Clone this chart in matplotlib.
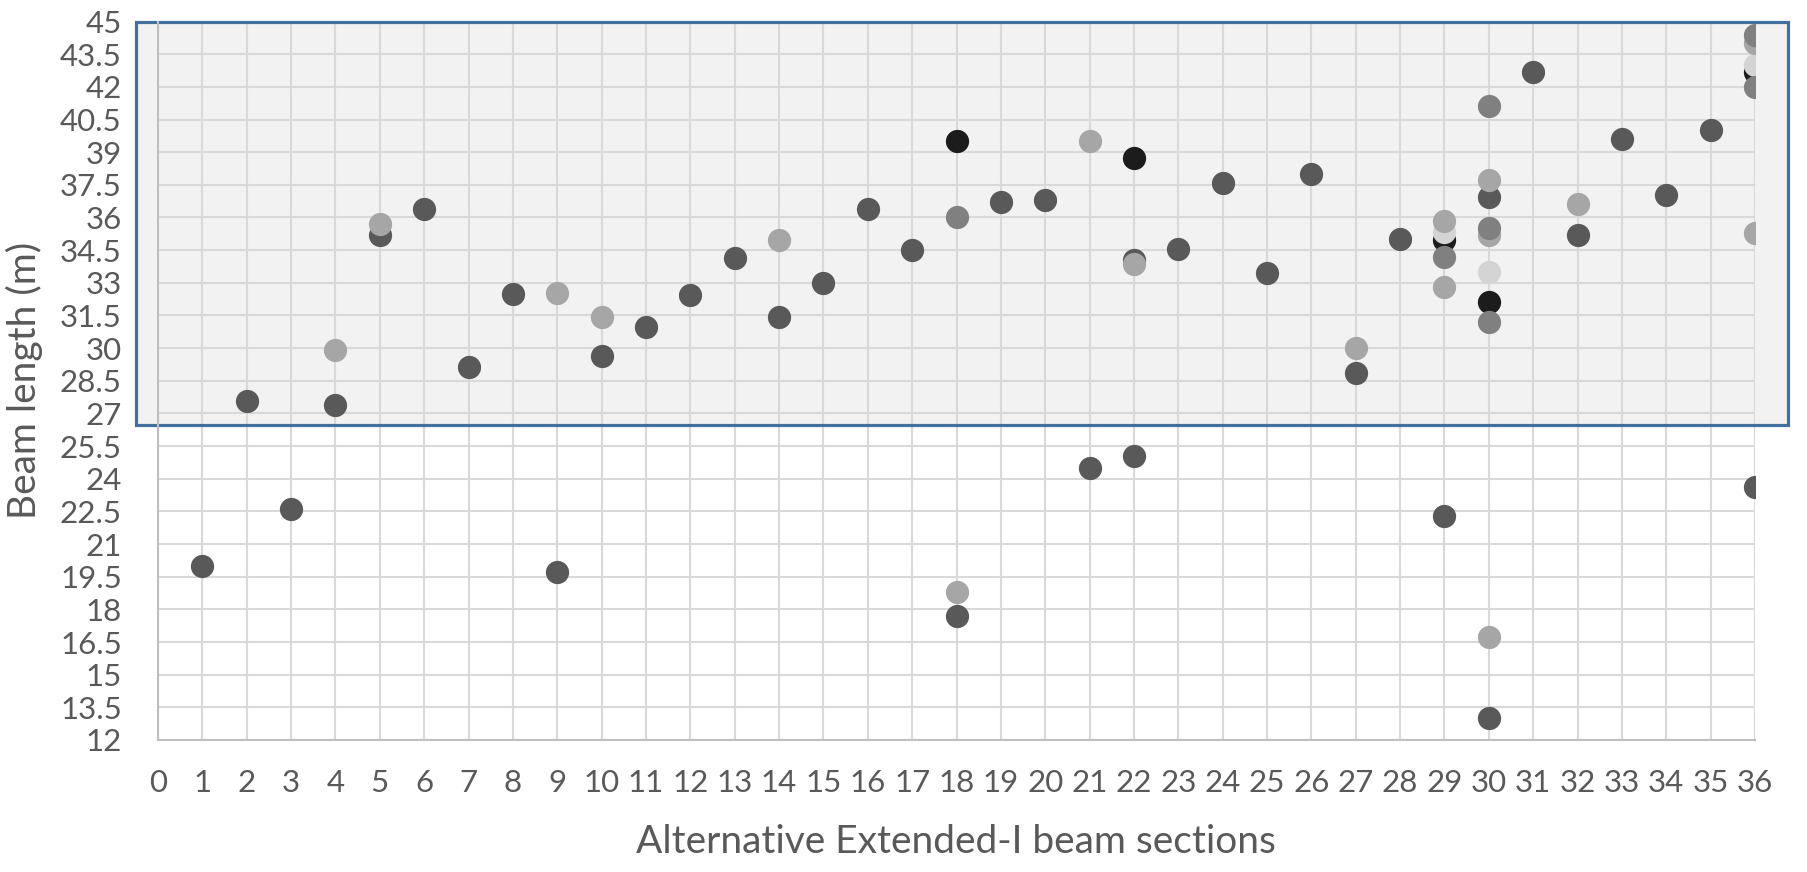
import matplotlib.pyplot as plt
from matplotlib.patches import Rectangle
import numpy as np

plt.rcParams['font.family'] = ['Lato', 'DejaVu Sans']

# beam sections vs beam length, grouped by marker shade
dark_x = [1, 2, 3, 4, 5, 6, 7, 8, 9, 10, 11, 12, 13, 14, 15, 16, 17, 18, 19, 20,
          21, 22, 22, 23, 24, 25, 26, 27, 28, 29, 30, 30, 31, 32, 33, 34, 35, 36]
dark_y = [20.0, 27.55, 22.6, 27.4, 35.2, 36.4, 29.15, 32.5, 19.7, 29.65, 30.95,
          32.45, 34.15, 31.45, 33.0, 36.4, 34.5, 17.7, 36.7, 36.8, 24.5, 34.05,
          25.05, 34.55, 37.6, 33.45, 38.0, 28.85, 35.0, 22.3, 36.95, 13.0, 42.7,
          35.2, 39.6, 37.05, 40.0, 23.6]

black_x = [18, 22, 29, 30, 36]
black_y = [39.5, 38.75, 34.95, 32.1, 42.7]

vlight_x = [29, 30, 36]
vlight_y = [35.35, 33.5, 43.0]

light_x = [4, 5, 9, 10, 14, 18, 21, 22, 27, 29, 29, 30, 30, 30, 32, 36, 36]
light_y = [29.9, 35.7, 32.55, 31.45, 34.95, 18.8, 39.5, 33.85, 30.0, 35.85, 32.8,
           37.7, 35.2, 16.75, 36.6, 44.0, 35.3]

medium_x = [18, 29, 30, 30, 30, 36, 36]
medium_y = [36.0, 34.2, 41.1, 35.5, 31.2, 44.4, 42.0]

x_ticks = np.arange(0, 37, 1)
y_ticks = np.arange(12, 45.1, 1.5)

fig = plt.figure(figsize=(18.08, 8.72), dpi=100)
ax = fig.add_axes([0.0874, 0.1514, 0.8833, 0.8239])

# highlighted region behind the upper points
ax.add_patch(Rectangle((-0.5, 26.47), 37.24, 18.53, facecolor='#f2f2f2',
                       edgecolor='none', clip_on=False, zorder=0.2))
ax.add_patch(Rectangle((-0.5, 26.47), 37.24, 18.53, fill=False,
                       edgecolor='#41719c', linewidth=2.3, clip_on=False, zorder=2.5))

ms = 280
ax.scatter(dark_x, dark_y, s=ms, color='#595959', linewidths=0, zorder=3)
ax.scatter(black_x, black_y, s=ms, color='#1c1c1c', linewidths=0, zorder=4)
ax.scatter(vlight_x, vlight_y, s=ms, color='#d4d4d4', linewidths=0, zorder=5)
ax.scatter(light_x, light_y, s=ms, color='#a6a6a6', linewidths=0, zorder=6)
ax.scatter(medium_x, medium_y, s=ms, color='#808080', linewidths=0, zorder=7)

ax.set_xlim(0, 36)
ax.set_ylim(12, 45)
ax.set_xticks(x_ticks)
ax.set_yticks(y_ticks)
ax.set_yticklabels([('%g' % v) for v in y_ticks])
ax.set_axisbelow(True)
ax.grid(True, color='#d9d9d9', linewidth=1.5)

ax.set_facecolor('none')
for s in ['top', 'right']:
    ax.spines[s].set_visible(False)
for s in ['left', 'bottom']:
    ax.spines[s].set_color('#bfbfbf')
    ax.spines[s].set_linewidth(1.5)

ax.tick_params(axis='both', length=0, labelsize=22.5, labelcolor='#595959')
ax.tick_params(axis='y', pad=26)
ax.tick_params(axis='x', pad=21)

fig.text(956 / 1808, 1 - 842 / 872, 'Alternative Extended-I beam sections',
         ha='center', va='center', fontsize=28, color='#595959')
fig.text(24 / 1808, 1 - 380 / 872, 'Beam length (m)', rotation=90,
         ha='center', va='center', fontsize=28, color='#595959')

fig.savefig('out.png', dpi=100)
